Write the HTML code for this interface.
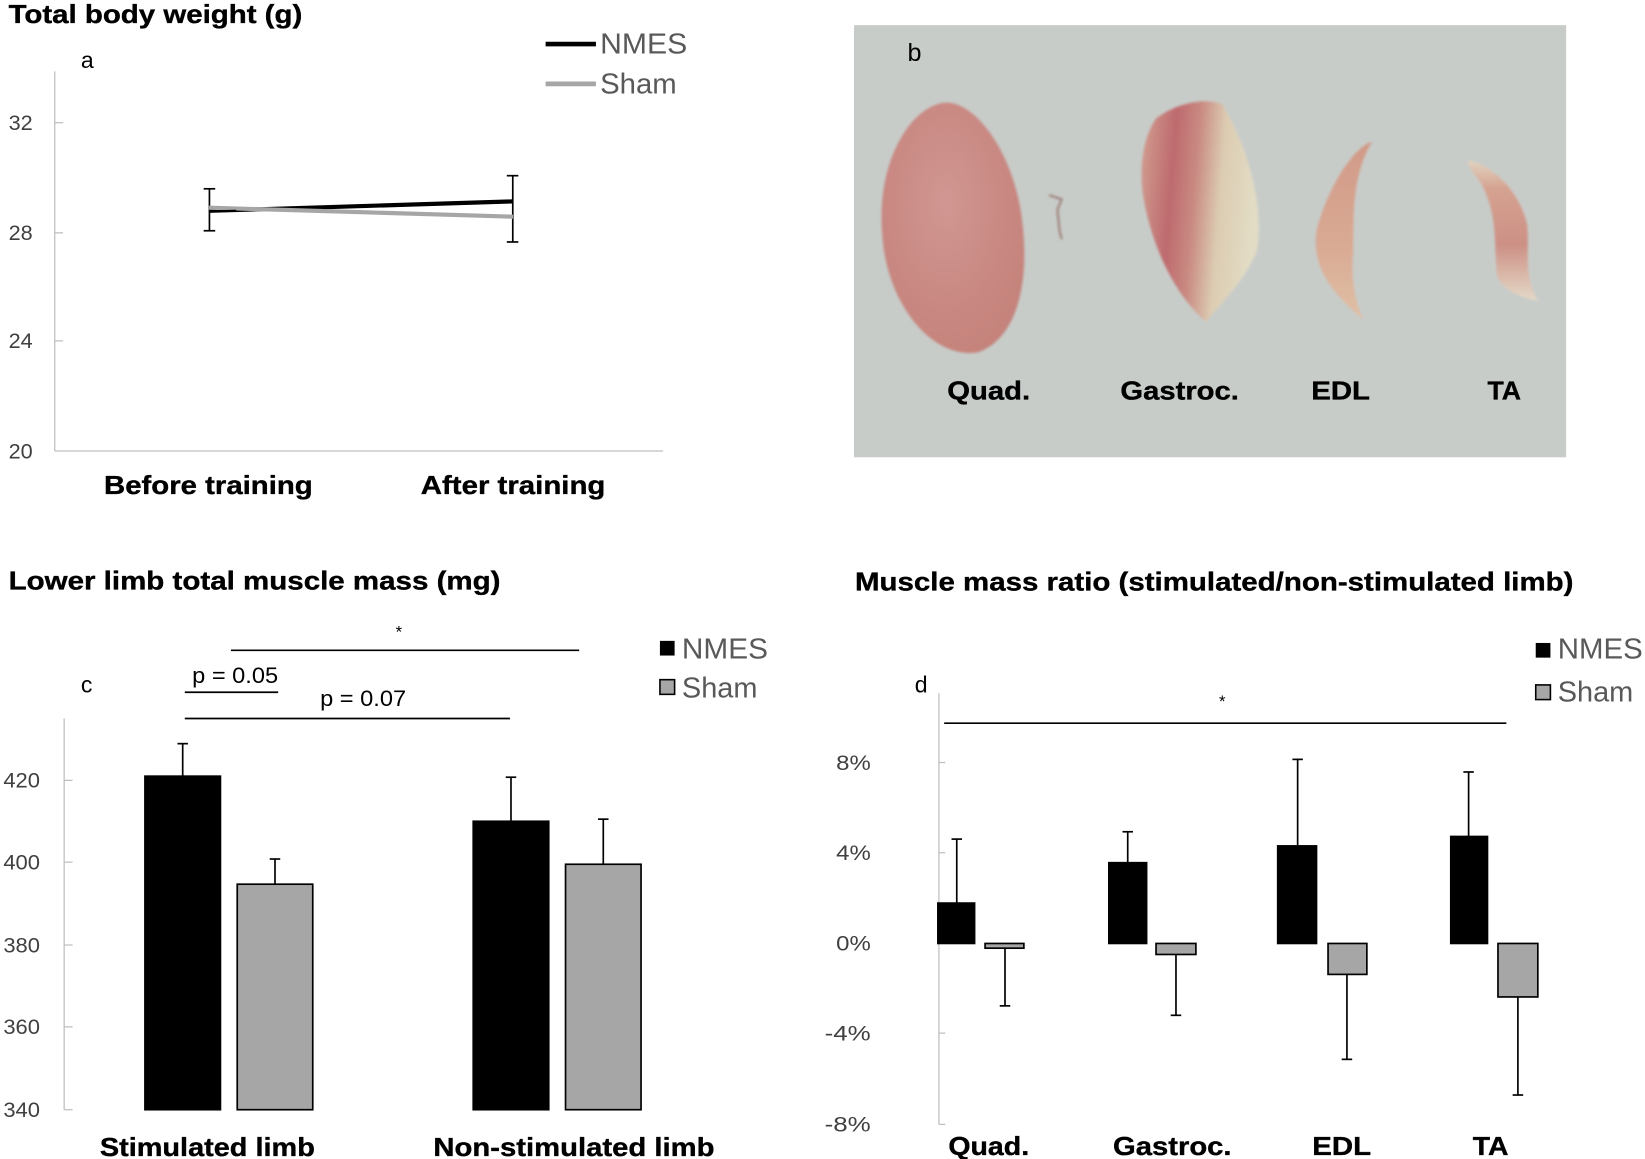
<!DOCTYPE html>
<html>
<head>
<meta charset="utf-8">
<style>
  html,body{margin:0;padding:0;background:#fff;}
  svg{display:block;}
  text{font-family:"Liberation Sans", Arial, sans-serif;}
  .b{font-weight:bold;fill:#000;stroke:#000;stroke-width:0.35;}
  .t{fill:#404040;}
  .lg{fill:#595959;}
</style>
</head>
<body>
<svg width="1645" height="1159" viewBox="0 0 1568 1105" xmlns="http://www.w3.org/2000/svg">
  <defs>
    <radialGradient id="gq" cx="0.45" cy="0.4" r="0.7">
      <stop offset="0" stop-color="#d19792"/>
      <stop offset="0.6" stop-color="#c98882"/>
      <stop offset="1" stop-color="#c38179"/>
    </radialGradient>
    <linearGradient id="gg" x1="0" y1="0" x2="1" y2="0.15">
      <stop offset="0" stop-color="#d2a192"/>
      <stop offset="0.3" stop-color="#be6a6e"/>
      <stop offset="0.5" stop-color="#c98a82"/>
      <stop offset="0.72" stop-color="#dcccb2"/>
      <stop offset="1" stop-color="#e2dcc4"/>
    </linearGradient>
    <linearGradient id="ge" x1="0" y1="0" x2="0" y2="1">
      <stop offset="0" stop-color="#d19a88"/>
      <stop offset="0.6" stop-color="#d9aa94"/>
      <stop offset="1" stop-color="#e0c0a6"/>
    </linearGradient>
    <linearGradient id="gt" x1="0" y1="0" x2="0" y2="1">
      <stop offset="0" stop-color="#e2d3c0"/>
      <stop offset="0.2" stop-color="#d5a290"/>
      <stop offset="0.6" stop-color="#cc9085"/>
      <stop offset="1" stop-color="#e5dac8"/>
    </linearGradient>
    <filter id="soft" x="-10%" y="-10%" width="120%" height="120%">
      <feGaussianBlur stdDeviation="1.3"/>
    </filter>
  </defs>

  <!-- ================= Panel a ================= -->
  <text class="b" x="8" y="22" font-size="25" textLength="280" lengthAdjust="spacingAndGlyphs">Total body weight (g)</text>
  <text x="77" y="65" font-size="22" fill="#000">a</text>
  <line x1="52" y1="68" x2="52" y2="430" stroke="#bfbfbf" stroke-width="1.2"/>
  <line x1="52" y1="430" x2="632" y2="430" stroke="#bfbfbf" stroke-width="1.2"/>
  <g stroke="#bfbfbf" stroke-width="1.2">
    <line x1="52" y1="117" x2="60" y2="117"/>
    <line x1="52" y1="222" x2="60" y2="222"/>
    <line x1="52" y1="325" x2="60" y2="325"/>
  </g>
  <g class="t" font-size="20" text-anchor="end">
    <text x="31" y="124" textLength="23" lengthAdjust="spacingAndGlyphs">32</text>
    <text x="31" y="229" textLength="23" lengthAdjust="spacingAndGlyphs">28</text>
    <text x="31" y="332" textLength="23" lengthAdjust="spacingAndGlyphs">24</text>
    <text x="31" y="437" textLength="23" lengthAdjust="spacingAndGlyphs">20</text>
  </g>
  <g stroke="#000" stroke-width="1.6">
    <line x1="199.5" y1="180" x2="199.5" y2="220"/>
    <line x1="194" y1="180" x2="205" y2="180"/>
    <line x1="194" y1="220" x2="205" y2="220"/>
    <line x1="488.7" y1="167.5" x2="488.7" y2="230.7"/>
    <line x1="483" y1="167.5" x2="494" y2="167.5"/>
    <line x1="483" y1="230.7" x2="494" y2="230.7"/>
  </g>
  <line x1="199" y1="201" x2="489" y2="192" stroke="#000" stroke-width="4"/>
  <line x1="199" y1="198" x2="489" y2="206.6" stroke="#a6a6a6" stroke-width="4"/>
  <line x1="199" y1="201.5" x2="225" y2="201" stroke="#000" stroke-width="2"/>
  <line x1="520" y1="42" x2="568" y2="42" stroke="#000" stroke-width="4.5"/>
  <text class="lg" x="572" y="51" font-size="27" textLength="83" lengthAdjust="spacingAndGlyphs">NMES</text>
  <line x1="520" y1="80" x2="568" y2="80" stroke="#a6a6a6" stroke-width="4.5"/>
  <text class="lg" x="572" y="89" font-size="27" textLength="73" lengthAdjust="spacingAndGlyphs">Sham</text>
  <text class="b" x="99" y="471" font-size="25" textLength="199" lengthAdjust="spacingAndGlyphs">Before training</text>
  <text class="b" x="401" y="471" font-size="25" textLength="176" lengthAdjust="spacingAndGlyphs">After training</text>

  <!-- ================= Panel b (photo) ================= -->
  <rect x="814" y="24" width="679" height="412" fill="#c8ccc9"/>
  <g filter="url(#soft)">
    <path d="M 900 98 C 925 95, 960 135, 972 195 C 984 262, 972 322, 932 336 C 890 342, 850 295, 842 235 C 835 180, 850 140, 868 118 C 878 106, 890 99, 900 98 Z" fill="url(#gq)"/>
    <path d="M 1102 113 C 1122 98, 1148 93, 1165 99 C 1190 140, 1206 200, 1198 240 C 1184 272, 1162 290, 1150 307 C 1120 282, 1096 232, 1089 182 C 1086 150, 1092 128, 1102 113 Z" fill="url(#gg)"/>
    <path d="M 1308 135 C 1290 140, 1265 180, 1255 220 C 1250 255, 1270 280, 1300 305 C 1290 285, 1288 260, 1290 240 C 1290 200, 1290 165, 1308 135 Z" fill="url(#ge)"/>
    <path d="M 1400 153 C 1425 158, 1450 185, 1456 215 C 1458 240, 1452 262, 1466 287 C 1445 282, 1430 275, 1427 262 C 1424 230, 1428 205, 1412 175 C 1405 165, 1398 158, 1400 153 Z" fill="url(#gt)"/>
    <path d="M 1000 186 L 1012 190 L 1008 200 L 1010 220 L 1012 228" stroke="#9c7f78" stroke-width="2" fill="none"/>
  </g>
  <text x="865" y="58" font-size="24" fill="#000">b</text>
  <text class="b" x="903" y="381" font-size="25" textLength="79" lengthAdjust="spacingAndGlyphs">Quad.</text>
  <text class="b" x="1068" y="381" font-size="25" textLength="113" lengthAdjust="spacingAndGlyphs">Gastroc.</text>
  <text class="b" x="1250" y="381" font-size="25" textLength="56" lengthAdjust="spacingAndGlyphs">EDL</text>
  <text class="b" x="1418" y="381" font-size="25" textLength="32" lengthAdjust="spacingAndGlyphs">TA</text>

  <!-- ================= Panel c ================= -->
  <text class="b" x="8" y="562" font-size="25" textLength="469" lengthAdjust="spacingAndGlyphs">Lower limb total muscle mass (mg)</text>
  <text x="77" y="660" font-size="22" fill="#000">c</text>
  <text x="377" y="608" font-size="16" fill="#000">*</text>
  <line x1="220" y1="620" x2="552" y2="620" stroke="#000" stroke-width="1.6"/>
  <text x="183" y="651" font-size="21" fill="#000" textLength="82" lengthAdjust="spacingAndGlyphs">p = 0.05</text>
  <line x1="176" y1="660" x2="265" y2="660" stroke="#000" stroke-width="1.6"/>
  <text x="305" y="673" font-size="21" fill="#000" textLength="82" lengthAdjust="spacingAndGlyphs">p = 0.07</text>
  <line x1="176" y1="685" x2="486" y2="685" stroke="#000" stroke-width="1.6"/>
  <rect x="629" y="611" width="14" height="14" fill="#000"/>
  <text class="lg" x="650" y="628" font-size="27" textLength="82" lengthAdjust="spacingAndGlyphs">NMES</text>
  <rect x="629" y="648" width="14" height="14" fill="#a6a6a6" stroke="#000" stroke-width="1.5"/>
  <text class="lg" x="650" y="665" font-size="27" textLength="72" lengthAdjust="spacingAndGlyphs">Sham</text>
  <line x1="61" y1="685" x2="61" y2="1058" stroke="#bfbfbf" stroke-width="1.2"/>
  <g stroke="#bfbfbf" stroke-width="1.2">
    <line x1="61" y1="744" x2="69" y2="744"/>
    <line x1="61" y1="822" x2="69" y2="822"/>
    <line x1="61" y1="901" x2="69" y2="901"/>
    <line x1="61" y1="979" x2="69" y2="979"/>
    <line x1="61" y1="1058" x2="69" y2="1058"/>
  </g>
  <g class="t" font-size="20" text-anchor="end">
    <text x="38" y="751" textLength="35" lengthAdjust="spacingAndGlyphs">420</text>
    <text x="38" y="829" textLength="35" lengthAdjust="spacingAndGlyphs">400</text>
    <text x="38" y="908" textLength="35" lengthAdjust="spacingAndGlyphs">380</text>
    <text x="38" y="986" textLength="35" lengthAdjust="spacingAndGlyphs">360</text>
    <text x="38" y="1065" textLength="35" lengthAdjust="spacingAndGlyphs">340</text>
  </g>
  <g stroke="#000" stroke-width="1.6">
    <line x1="174" y1="740" x2="174" y2="709"/><line x1="169" y1="709" x2="179" y2="709"/>
    <line x1="262" y1="843" x2="262" y2="819"/><line x1="257" y1="819" x2="267" y2="819"/>
    <line x1="487" y1="783" x2="487" y2="741"/><line x1="482" y1="741" x2="492" y2="741"/>
    <line x1="575" y1="824" x2="575" y2="781"/><line x1="570" y1="781" x2="580" y2="781"/>
  </g>
  <g stroke="#000" stroke-width="1.6">
    <rect x="138" y="740" width="72" height="318" fill="#000"/>
    <rect x="226" y="843" width="72" height="215" fill="#a6a6a6"/>
    <rect x="451" y="783" width="72" height="275" fill="#000"/>
    <rect x="539" y="824" width="72" height="234" fill="#a6a6a6"/>
  </g>
  <text class="b" x="95" y="1102" font-size="25" textLength="205" lengthAdjust="spacingAndGlyphs">Stimulated limb</text>
  <text class="b" x="413" y="1102" font-size="25" textLength="268" lengthAdjust="spacingAndGlyphs">Non-stimulated limb</text>

  <!-- ================= Panel d ================= -->
  <text class="b" x="815" y="563" font-size="25" textLength="685" lengthAdjust="spacingAndGlyphs">Muscle mass ratio (stimulated/non-stimulated  limb)</text>
  <text x="872" y="660" font-size="22" fill="#000">d</text>
  <text x="1162" y="674" font-size="16" fill="#000">*</text>
  <line x1="900" y1="689.5" x2="1436" y2="689.5" stroke="#000" stroke-width="1.6"/>
  <rect x="1464" y="613" width="14" height="14" fill="#000"/>
  <text class="lg" x="1485" y="628" font-size="27" textLength="81" lengthAdjust="spacingAndGlyphs">NMES</text>
  <rect x="1464" y="653" width="14" height="14" fill="#a6a6a6" stroke="#000" stroke-width="1.5"/>
  <text class="lg" x="1485" y="669" font-size="27" textLength="72" lengthAdjust="spacingAndGlyphs">Sham</text>
  <line x1="895" y1="661" x2="895" y2="1072" stroke="#bfbfbf" stroke-width="1.2"/>
  <g stroke="#bfbfbf" stroke-width="1.2">
    <line x1="895" y1="727" x2="901" y2="727"/>
    <line x1="895" y1="813" x2="901" y2="813"/>
    <line x1="895" y1="985" x2="901" y2="985"/>
    <line x1="895" y1="1072" x2="901" y2="1072"/>
  </g>
  <g class="t" font-size="20" text-anchor="end">
    <text x="830" y="734" textLength="33" lengthAdjust="spacingAndGlyphs">8%</text>
    <text x="830" y="820" textLength="33" lengthAdjust="spacingAndGlyphs">4%</text>
    <text x="830" y="906" textLength="33" lengthAdjust="spacingAndGlyphs">0%</text>
    <text x="830" y="992" textLength="44" lengthAdjust="spacingAndGlyphs">-4%</text>
    <text x="830" y="1079" textLength="44" lengthAdjust="spacingAndGlyphs">-8%</text>
  </g>
  <g stroke="#000" stroke-width="1.6">
    <line x1="912" y1="861" x2="912" y2="800"/><line x1="907" y1="800" x2="917" y2="800"/>
    <line x1="958" y1="904" x2="958" y2="959"/><line x1="953" y1="959" x2="963" y2="959"/>
    <line x1="1075" y1="822" x2="1075" y2="793"/><line x1="1070" y1="793" x2="1080" y2="793"/>
    <line x1="1121" y1="910" x2="1121" y2="968"/><line x1="1116" y1="968" x2="1126" y2="968"/>
    <line x1="1237" y1="806" x2="1237" y2="724"/><line x1="1232" y1="724" x2="1242" y2="724"/>
    <line x1="1284" y1="929" x2="1284" y2="1010"/><line x1="1279" y1="1010" x2="1289" y2="1010"/>
    <line x1="1400" y1="797" x2="1400" y2="736"/><line x1="1395" y1="736" x2="1405" y2="736"/>
    <line x1="1447" y1="950" x2="1447" y2="1044"/><line x1="1442" y1="1044" x2="1452" y2="1044"/>
  </g>
  <g stroke="#000" stroke-width="1.6">
    <rect x="894" y="861" width="35" height="38.5" fill="#000"/>
    <rect x="939" y="899.5" width="37" height="4.5" fill="#a6a6a6"/>
    <rect x="1057" y="822.5" width="36" height="77" fill="#000"/>
    <rect x="1102" y="899.5" width="38" height="10.5" fill="#a6a6a6"/>
    <rect x="1218" y="806.5" width="37" height="93" fill="#000"/>
    <rect x="1266" y="899.5" width="37" height="29.5" fill="#a6a6a6"/>
    <rect x="1383" y="797.5" width="35" height="102" fill="#000"/>
    <rect x="1428" y="899.5" width="38" height="51" fill="#a6a6a6"/>
  </g>
  <text class="b" x="904" y="1101" font-size="25" textLength="77" lengthAdjust="spacingAndGlyphs">Quad.</text>
  <text class="b" x="1061" y="1101" font-size="25" textLength="113" lengthAdjust="spacingAndGlyphs">Gastroc.</text>
  <text class="b" x="1251" y="1101" font-size="25" textLength="56" lengthAdjust="spacingAndGlyphs">EDL</text>
  <text class="b" x="1404" y="1101" font-size="25" textLength="34" lengthAdjust="spacingAndGlyphs">TA</text>
</svg>
</body>
</html>
